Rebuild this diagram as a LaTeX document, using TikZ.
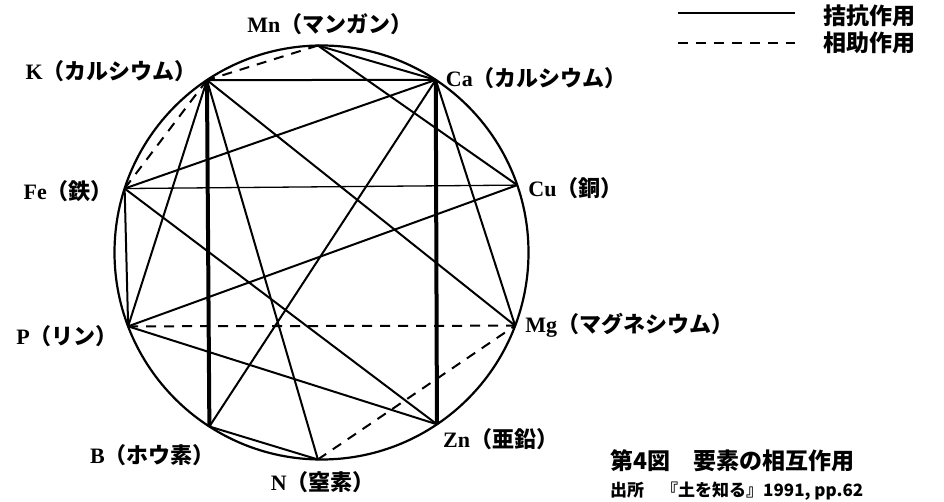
\documentclass[tikz,border=0pt]{standalone}
\usepackage{fontspec}
\setmainfont{Liberation Serif}
\newfontfamily\jp{Noto Sans CJK JP}
\usetikzlibrary{positioning,calc}
\newcommand{\elem}[2]{\textbf{#1}{\jp\bfseries （#2）}}

\begin{document}
\begin{tikzpicture}[x=1pt,y=1pt]
  \tikzstyle{rim}=[line width=2.2pt]
  \tikzstyle{anta}=[line width=2.0pt]
  \tikzstyle{thin}=[line width=1.3pt]
  \tikzstyle{heavy}=[line width=4.0pt]
  \tikzstyle{syn}=[line width=2.0pt,dash pattern=on 10pt off 8pt]
  \tikzstyle{lab}=[inner sep=0pt,font=\fontsize{22}{26}\selectfont]
  \tikzstyle{captext}=[inner sep=0pt,anchor=west,font=\fontsize{23}{27}\selectfont\jp\bfseries]
  \useasboundingbox (0,0) rectangle (944,501);
  \coordinate (C) at (321.5,248.5);
  \foreach \n/\a in {Mn/91,K/123.6,Ca/56.5,Fe/162,Cu/19,P/200.9,Mg/339.3,B/237.2,N/269,Zn/303.9}
    \coordinate (\n) at ($(C)+(\a:207)$);
  \draw[rim] (C) circle[radius=207pt];
  \draw[syn] (Mn) -- (K);
  \draw[syn] (K) -- (Fe);
  \draw[syn] (P) -- (Mg);
  \draw[syn] (N) -- (Mg);
  \draw[anta] (Mn) -- (Ca);
  \draw[anta] (Mn) -- (Cu);
  \draw[anta] (K) -- (Ca);
  \draw[anta] (K) -- (P);
  \draw[anta] (K) -- (N);
  \draw[anta] (K) -- (Mg);
  \draw[anta] (Fe) -- (Ca);
  \draw[thin] (Fe) -- (Cu);
  \draw[anta] (Fe) -- (P);
  \draw[anta] (Fe) -- (Zn);
  \draw[anta] (Ca) -- (B);
  \draw[anta] (Ca) -- (Mg);
  \draw[anta] (P) -- (Cu);
  \draw[anta] (P) -- (Zn);
  \draw[anta] (B) -- (N);
  \draw[heavy] (K) -- (B);
  \draw[heavy] (Ca) -- (Zn);
  \node[lab,above=11pt of Mn,xshift=12pt] (lMn) {\elem{Mn}{マンガン}};
  \node[lab,anchor=east] (lK) at (197,430) {\elem{K}{カルシウム}};
  \node[lab,right=10pt of Ca,yshift=2pt] (lCa) {\elem{Ca}{カルシウム}};
  \node[lab,anchor=east] (lFe) at (113,310) {\elem{Fe}{鉄}};
  \node[lab,right=11pt of Cu,yshift=-3pt] (lCu) {\elem{Cu}{銅}};
  \node[lab,anchor=east] (lP) at (118,165) {\elem{P}{リン}};
  \node[lab,right=10pt of Mg] (lMg) {\elem{Mg}{マグネシウム}};
  \node[lab,anchor=east] (lB) at (215,46) {\elem{B}{ホウ素}};
  \node[lab,below=12pt of N,xshift=5pt] (lN) {\elem{N}{窒素}};
  \node[lab,anchor=west] (lZn) at (443,62) {\elem{Zn}{亜鉛}};
  \coordinate (sa) at (678,488);
  \coordinate (sb) at (795,488);
  \coordinate (da) at (678,458);
  \coordinate (db) at (795,458);
  \draw[thin] (sa) -- (sb);
  \draw[syn,line width=1.4pt] (da) -- (db);
  \node[captext,right=28pt of sb,yshift=-3pt] (tanta) {拮抗作用};
  \node[captext,right=28pt of db] (tsyn) {相助作用};
  \node[captext] (title) at (610,40) {第4図　要素の相互作用};
  \node[captext,font=\fontsize{17}{20}\selectfont\jp\bfseries] (src) at (610,10) {出所　『土を知る』1991, pp.62};
\end{tikzpicture}
\end{document}
